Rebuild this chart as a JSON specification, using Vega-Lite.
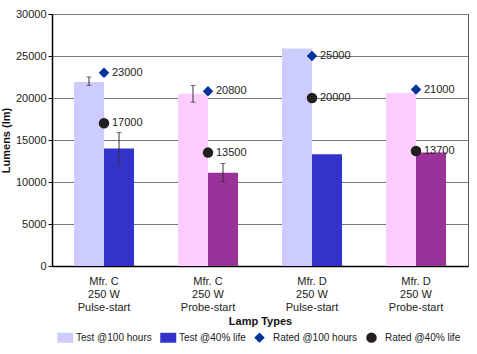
{
  "$schema": "https://vega.github.io/schema/vega-lite/v6.json",
  "width": 416,
  "height": 252,
  "autosize": {"type": "none"},
  "padding": {"left": 52, "top": 14, "right": 9, "bottom": 88},
  "config": {
    "font": "Liberation Sans",
    "view": {"stroke": "#555", "strokeWidth": 1},
    "legend": {
      "orient": "none", "legendX": 5, "legendY": 318,
      "direction": "horizontal", "columns": 4, "title": null,
      "labelFontSize": 10, "labelColor": "#222", "symbolSize": 110,
      "columnPadding": 8, "labelOffset": 8, "symbolStrokeWidth": 0, "symbolOpacity": 1
    }
  },
  "datasets": {
    "bars": [
      {"lamp": "Mfr. C|250 W|Pulse-start", "start": "Pulse", "series": "Test @100 hours", "value": 21900, "lo": 21500, "hi": 22500},
      {"lamp": "Mfr. C|250 W|Pulse-start", "start": "Pulse", "series": "Test @40% life", "value": 14000, "lo": 12100, "hi": 15900},
      {"lamp": "Mfr. C|250 W|Probe-start", "start": "Probe", "series": "Test @100 hours", "value": 20500, "lo": 19500, "hi": 21500},
      {"lamp": "Mfr. C|250 W|Probe-start", "start": "Probe", "series": "Test @40% life", "value": 11100, "lo": 10000, "hi": 12200},
      {"lamp": "Mfr. D|250 W|Pulse-start", "start": "Pulse", "series": "Test @100 hours", "value": 25900, "lo": null, "hi": null},
      {"lamp": "Mfr. D|250 W|Pulse-start", "start": "Pulse", "series": "Test @40% life", "value": 13300, "lo": null, "hi": null},
      {"lamp": "Mfr. D|250 W|Probe-start", "start": "Probe", "series": "Test @100 hours", "value": 20600, "lo": null, "hi": null},
      {"lamp": "Mfr. D|250 W|Probe-start", "start": "Probe", "series": "Test @40% life", "value": 13500, "lo": null, "hi": null}
    ],
    "rated": [
      {"lamp": "Mfr. C|250 W|Pulse-start", "series": "Rated @100 hours", "value": 23000},
      {"lamp": "Mfr. C|250 W|Pulse-start", "series": "Rated @40% life", "value": 17000},
      {"lamp": "Mfr. C|250 W|Probe-start", "series": "Rated @100 hours", "value": 20800},
      {"lamp": "Mfr. C|250 W|Probe-start", "series": "Rated @40% life", "value": 13500},
      {"lamp": "Mfr. D|250 W|Pulse-start", "series": "Rated @100 hours", "value": 25000},
      {"lamp": "Mfr. D|250 W|Pulse-start", "series": "Rated @40% life", "value": 20000},
      {"lamp": "Mfr. D|250 W|Probe-start", "series": "Rated @100 hours", "value": 21000},
      {"lamp": "Mfr. D|250 W|Probe-start", "series": "Rated @40% life", "value": 13700}
    ]
  },
  "layer": [
    {
      "data": {"name": "bars"},
      "transform": [{"calculate": "datum.start === 'Probe' ? 'Probe ' + datum.series : datum.series", "as": "colorKey"}],
      "mark": {"type": "bar"},
      "encoding": {
        "x": {
          "field": "lamp", "type": "nominal", "sort": null,
          "scale": {"paddingInner": 0, "paddingOuter": 0},
          "title": "Lamp Types",
          "axis": {
            "labelExpr": "split(datum.label, '|')",
            "labelAngle": 0, "labelFontSize": 11, "labelColor": "#222",
            "labelLineHeight": 13, "labelPadding": 9, "ticks": false,
            "domainColor": "#000", "domainWidth": 1.5,
            "titleFontSize": 11, "titleFontWeight": "bold", "titleColor": "#111", "titlePadding": 3
          }
        },
        "xOffset": {
          "field": "series", "type": "nominal", "sort": ["Test @100 hours", "Test @40% life"],
          "scale": {"paddingInner": 0, "paddingOuter": 0.7333}
        },
        "y": {
          "field": "value", "type": "quantitative",
          "scale": {"domain": [0, 30000]},
          "title": "Lumens (lm)",
          "axis": {
            "values": [0, 5000, 10000, 15000, 20000, 25000, 30000],
            "format": "d",
            "labelFontSize": 11, "labelColor": "#222", "tickSize": 4, "labelPadding": 2,
            "tickColor": "#000", "domainColor": "#000", "domainWidth": 1.5,
            "gridColor": "#777", "gridWidth": 1,
            "titleFontSize": 11, "titleFontWeight": "bold", "titleColor": "#111", "titlePadding": 4
          }
        },
        "fill": {
          "field": "colorKey", "type": "nominal",
          "scale": {
            "domain": ["Test @100 hours", "Test @40% life", "Rated @100 hours", "Rated @40% life", "Probe Test @100 hours", "Probe Test @40% life"],
            "range": ["#ccccff", "#3333cc", "#003399", "#231f20", "#ffccff", "#993399"]
          },
          "legend": {"values": ["Test @100 hours", "Test @40% life", "Rated @100 hours", "Rated @40% life"]}
        }
      }
    },
    {
      "data": {"name": "bars"},
      "transform": [{"filter": "isValid(datum.lo)"}],
      "mark": {"type": "rule", "color": "#333", "strokeWidth": 1},
      "encoding": {
        "x": {"field": "lamp", "type": "nominal", "sort": null},
        "xOffset": {"field": "series", "type": "nominal", "sort": ["Test @100 hours", "Test @40% life"]},
        "y": {"field": "lo", "type": "quantitative"},
        "y2": {"field": "hi"}
      }
    },
    {
      "data": {"name": "bars"},
      "transform": [{"filter": "isValid(datum.lo)"}],
      "mark": {"type": "tick", "color": "#333", "size": 5, "thickness": 1, "orient": "horizontal"},
      "encoding": {
        "x": {"field": "lamp", "type": "nominal", "sort": null},
        "xOffset": {"field": "series", "type": "nominal", "sort": ["Test @100 hours", "Test @40% life"]},
        "y": {"field": "lo", "type": "quantitative"}
      }
    },
    {
      "data": {"name": "bars"},
      "transform": [{"filter": "isValid(datum.lo)"}],
      "mark": {"type": "tick", "color": "#333", "size": 5, "thickness": 1, "orient": "horizontal"},
      "encoding": {
        "x": {"field": "lamp", "type": "nominal", "sort": null},
        "xOffset": {"field": "series", "type": "nominal", "sort": ["Test @100 hours", "Test @40% life"]},
        "y": {"field": "hi", "type": "quantitative"}
      }
    },
    {
      "data": {"name": "rated"},
      "mark": {"type": "point", "filled": true, "opacity": 1, "strokeWidth": 0, "size": 110},
      "encoding": {
        "x": {"field": "lamp", "type": "nominal", "sort": null},
        "y": {"field": "value", "type": "quantitative"},
        "fill": {
          "field": "series", "type": "nominal",
          "scale": {"domain": ["Test @100 hours", "Test @40% life", "Rated @100 hours", "Rated @40% life", "Probe Test @100 hours", "Probe Test @40% life"]},
          "legend": {"values": ["Test @100 hours", "Test @40% life", "Rated @100 hours", "Rated @40% life"]}
        },
        "shape": {
          "field": "series", "type": "nominal",
          "scale": {
            "domain": ["Test @100 hours", "Test @40% life", "Rated @100 hours", "Rated @40% life", "Probe Test @100 hours", "Probe Test @40% life"],
            "range": ["M-1,-0.95H2.05V0.95H-1Z", "M-1,-0.95H2.05V0.95H-1Z", "diamond", "circle", "M-1,-0.95H2.05V0.95H-1Z", "M-1,-0.95H2.05V0.95H-1Z"]
          },
          "legend": {"values": ["Test @100 hours", "Test @40% life", "Rated @100 hours", "Rated @40% life"]}
        }
      }
    },
    {
      "data": {"name": "rated"},
      "mark": {"type": "text", "align": "left", "baseline": "middle", "dx": 8, "fontSize": 11, "color": "#222"},
      "encoding": {
        "x": {"field": "lamp", "type": "nominal", "sort": null},
        "y": {"field": "value", "type": "quantitative"},
        "text": {"field": "value", "type": "quantitative", "format": "d"}
      }
    }
  ]
}
